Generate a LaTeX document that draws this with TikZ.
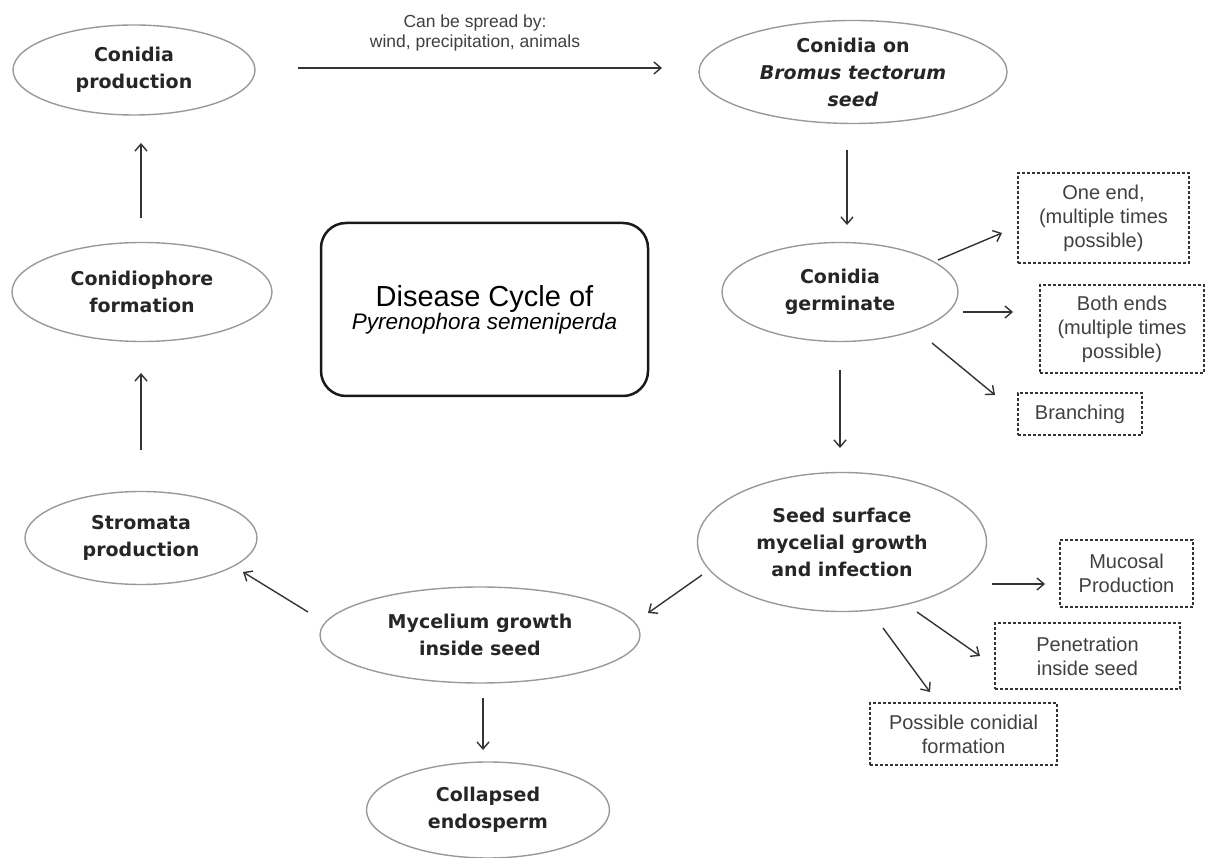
\documentclass[tikz,border=0pt]{standalone}
\usepackage{fontspec}
\setmainfont{Liberation Sans}
\newfontfamily\ellfont{DejaVu Sans}
\usetikzlibrary{shapes.geometric,arrows.meta}
\begin{document}
\begin{tikzpicture}[x=1pt,y=1pt,
  ell/.style={ellipse, draw=black!40, line width=1.4pt, inner sep=0pt, align=center,
    font=\ellfont\bfseries\fontsize{19}{27}\selectfont, text=black!85},
  dbox/.style={rectangle, draw=black!80, densely dashed, line width=1.1pt, inner sep=0pt,
    align=center, font=\fontsize{20}{24}\selectfont, text=black!75},
  titlebox/.style={rectangle, draw=black!90, line width=2.5pt, rounded corners=25pt,
    inner sep=0pt, align=center},
  arr/.style={draw=black!80, line width=1.4pt, -{Straight Barb[length=7pt,width=12pt]}},
  lbl/.style={font=\fontsize{17.5}{20}\selectfont, text=black!75, align=center, inner sep=0pt}
]
\useasboundingbox (0,0) rectangle (1207,857);

% ellipses
\node[ell, minimum width=242pt, minimum height=90pt] (cp) at (134,787) {Conidia\\production};
\node[ell, minimum width=308pt, minimum height=103pt] (cb) at (853,785) {Conidia on\\\itshape Bromus tectorum\\\itshape seed};
\node[ell, minimum width=236pt, minimum height=99pt] (cg) at (840,565) {Conidia\\germinate};
\node[ell, minimum width=260pt, minimum height=99pt] (cf) at (142,565) {Conidiophore\\formation};
\node[ell, minimum width=232pt, minimum height=93pt] (sp) at (141,319) {Stromata\\production};
\node[ell, minimum width=289pt, minimum height=139pt] (ss) at (842,315) {Seed surface\\mycelial growth\\and infection};
\node[ell, minimum width=320pt, minimum height=96pt] (mg) at (480,222) {Mycelium growth\\inside seed};
\node[ell, minimum width=243pt, minimum height=96pt] (ce) at (488,47) {Collapsed\\endosperm};

% title
\node[titlebox, minimum width=327pt, minimum height=173pt] (tt) at (484.5,547.5)
  {\fontsize{29}{28}\selectfont Disease Cycle of\\\fontsize{22.5}{28}\selectfont\itshape Pyrenophora semeniperda};

% dashed boxes
\node[dbox, minimum width=171pt, minimum height=90pt] (b1) at (1103.5,639) {One end,\\(multiple times\\possible)};
\node[dbox, minimum width=164pt, minimum height=88pt] (b2) at (1122,528) {Both ends\\(multiple times\\possible)};
\node[dbox, minimum width=124pt, minimum height=42pt] (b3) at (1080,443) {Branching};
\node[dbox, minimum width=133pt, minimum height=67pt] (b4) at (1126.5,283.5) {Mucosal\\Production};
\node[dbox, minimum width=185pt, minimum height=66pt] (b5) at (1087.5,201) {Penetration\\inside seed};
\node[dbox, minimum width=187pt, minimum height=62pt] (b6) at (963.5,123) {Possible conidial\\formation};

% connectors
\draw[arr] ([shift={(164,2)}]cp.center) -- node[lbl, above=16pt, xshift=-5pt] {Can be spread by:\\wind, precipitation, animals} ([shift={(-191,4)}]cb.center);
\draw[arr] ([shift={(-6,-78)}]cb.center) -- ([shift={(7,67)}]cg.center);
\draw[arr] ([shift={(98,32)}]cg.center) -- ([shift={(-101.5,-15)}]b1.center);
\draw[arr] ([shift={(123,-20)}]cg.center) -- ([shift={(-109,17)}]b2.center);
\draw[arr] ([shift={(92,-51)}]cg.center) -- ([shift={(-85,19)}]b3.center);
\draw[arr] ([shift={(0,-78)}]cg.center) -- ([shift={(-2,94)}]ss.center);
\draw[arr] ([shift={(150,-42)}]ss.center) -- ([shift={(-81.5,-10.5)}]b4.center);
\draw[arr] ([shift={(75,-70)}]ss.center) -- ([shift={(-107.5,0)}]b5.center);
\draw[arr] ([shift={(41,-86)}]ss.center) -- ([shift={(-33.5,42)}]b6.center);
\draw[arr] ([shift={(-140,-33)}]ss.center) -- ([shift={(168,22)}]mg.center);
\draw[arr] ([shift={(-172,23)}]mg.center) -- ([shift={(102,-34)}]sp.center);
\draw[arr] ([shift={(3,-63)}]mg.center) -- ([shift={(-5,60)}]ce.center);
\draw[arr] ([shift={(0,88)}]sp.center) -- ([shift={(-1,-81)}]cf.center);
\draw[arr] ([shift={(-1,74)}]cf.center) -- ([shift={(7,-73)}]cp.center);
\end{tikzpicture}
\end{document}
